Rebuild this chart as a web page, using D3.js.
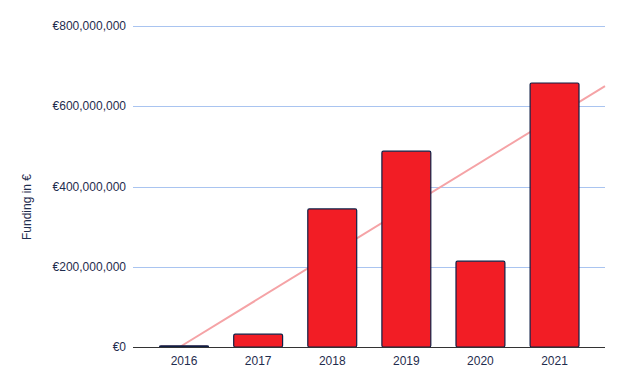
<!DOCTYPE html>
<html>
<head>
<meta charset="utf-8">
<script src="https://cdn.jsdelivr.net/npm/d3@7"></script>
<style>
  body { margin: 0; background: #fff; }
  text { font-family: "Liberation Sans", Arial, sans-serif; }
</style>
</head>
<body>
<div id="chart"></div>
<script>
var years = ["2016", "2017", "2018", "2019", "2020", "2021"];
var funding = [3000000, 32000000, 344000000, 488000000, 214000000, 658000000];
var yTicks = [0, 200000000, 400000000, 600000000, 800000000];

var width = 625, height = 387;
var plot = { left: 133, right: 605, top: 26, bottom: 347 };

var svg = d3.select("#chart").append("svg")
  .attr("width", width)
  .attr("height", height);

var x = d3.scaleBand()
  .domain(years)
  .range([147, 591.6])
  .paddingInner(0.34)
  .paddingOuter(0.17);

var y = d3.scaleLinear()
  .domain([0, 800000000])
  .range([plot.bottom, plot.top]);

var fmt = function (d) { return "€" + d3.format(",")(d); };

// gridlines
svg.append("g")
  .selectAll("line")
  .data(yTicks.slice(1))
  .enter().append("line")
  .attr("x1", plot.left).attr("x2", plot.right)
  .attr("y1", function (d) { return Math.round(y(d)) + 0.5; })
  .attr("y2", function (d) { return Math.round(y(d)) + 0.5; })
  .attr("stroke", "#a9c4f0")
  .attr("stroke-width", 1);

// y labels
svg.append("g")
  .selectAll("text")
  .data(yTicks)
  .enter().append("text")
  .attr("x", 126)
  .attr("y", function (d) { return y(d); })
  .attr("dy", "0.35em")
  .attr("text-anchor", "end")
  .attr("font-size", 12)
  .attr("fill", "#1f2d4e")
  .text(fmt);

// linear trendline (drawn behind the bars)
var xs = funding.map(function (d, i) { return i; });
var mx = d3.mean(xs), my = d3.mean(funding);
var sxy = d3.sum(xs, function (xi, i) { return (xi - mx) * (funding[i] - my); });
var sxx = d3.sum(xs, function (xi) { return (xi - mx) * (xi - mx); });
var slope = sxy / sxx, intercept = my - slope * mx;

var step = x.step();
var c0 = x(years[0]) + x.bandwidth() / 2;
function idxAt(px) { return (px - c0) / step; }
var startIdx = Math.max(idxAt(plot.left), -intercept / slope);
var endIdx = idxAt(plot.right);

svg.append("line")
  .attr("x1", c0 + startIdx * step)
  .attr("y1", y(intercept + slope * startIdx))
  .attr("x2", c0 + endIdx * step)
  .attr("y2", y(intercept + slope * endIdx))
  .attr("stroke", "#f5a3a6")
  .attr("stroke-width", 2);

// bars
svg.append("g")
  .selectAll("rect")
  .data(funding)
  .enter().append("rect")
  .attr("x", function (d, i) { return x(years[i]); })
  .attr("y", function (d) { return y(d); })
  .attr("width", x.bandwidth())
  .attr("height", function (d) { return y(0) - y(d); })
  .attr("rx", 1.5)
  .attr("fill", "#f21d25")
  .attr("stroke", "#0f1f45")
  .attr("stroke-width", 1.2);

// baseline
svg.append("line")
  .attr("x1", plot.left).attr("x2", plot.right)
  .attr("y1", plot.bottom + 0.5).attr("y2", plot.bottom + 0.5)
  .attr("stroke", "#333")
  .attr("stroke-width", 1);

// x labels
svg.append("g")
  .selectAll("text")
  .data(years)
  .enter().append("text")
  .attr("x", function (d) { return x(d) + x.bandwidth() / 2; })
  .attr("y", 365)
  .attr("text-anchor", "middle")
  .attr("font-size", 12)
  .attr("fill", "#1f2d4e")
  .text(function (d) { return d; });

// y axis title
svg.append("text")
  .attr("transform", "translate(31,207) rotate(-90)")
  .attr("text-anchor", "middle")
  .attr("font-size", 12)
  .attr("fill", "#1f2d4e")
  .text("Funding in €");
</script>
</body>
</html>
